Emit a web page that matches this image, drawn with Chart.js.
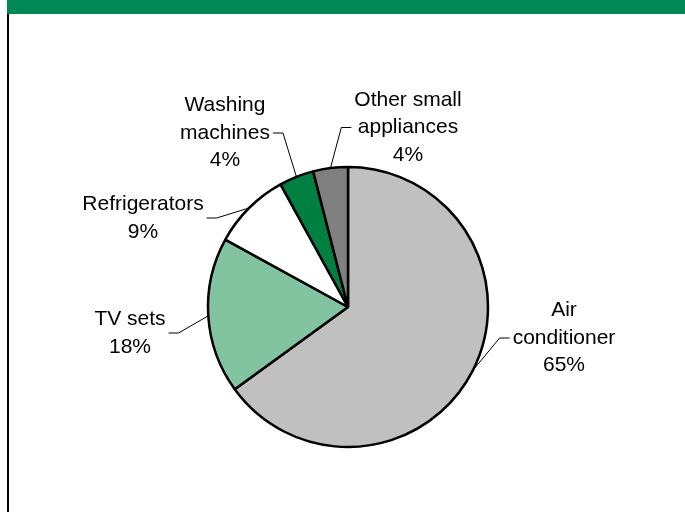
<!DOCTYPE html>
<html>
<head>
<meta charset="utf-8">
<script src="https://cdn.jsdelivr.net/npm/chart.js@4/dist/chart.umd.min.js"></script>
<style>
  html, body { margin: 0; padding: 0; background: #ffffff; }
  #wrap { position: relative; width: 685px; height: 512px; overflow: hidden; }
  #c { position: absolute; left: 0; top: 0; }
  #band { position: absolute; left: 7px; top: 0; width: 678px; height: 14px; background: #008857; }
  #edge { position: absolute; left: 7px; top: 14px; width: 2px; height: 498px; background: #000; }
</style>
</head>
<body>
<div id="wrap">
  <canvas id="c" width="685" height="512"></canvas>
  <div id="band"></div>
  <div id="edge"></div>
</div>
<script>
// ---- data ----
const categories = [
  ["Air", "conditioner"],
  ["TV sets"],
  ["Refrigerators"],
  ["Washing", "machines"],
  ["Other small", "appliances"]
];
const shares = [65, 18, 9, 4, 4];
const sliceColors = ["#C0C0C0", "#82C3A0", "#FFFFFF", "#008040", "#808080"];

// label block centre, relative to pie centre (px)
const labelOffsets = [
  [216, 31], [-218, 26], [-205, -89], [-123, -174], [60, -179.5]
];

const labelPlugin = {
  id: 'pieLabels',
  afterDraw(chart) {
    const ctx = chart.ctx;
    const meta = chart.getDatasetMeta(0);
    const data = chart.data.datasets[0].data;
    const total = data.reduce((a, b) => a + b, 0);
    ctx.save();
    ctx.font = '21px "Liberation Sans", Arial, sans-serif';
    ctx.fillStyle = '#000';
    ctx.strokeStyle = '#000';
    ctx.lineWidth = 1;
    const lh = 27.5;
    meta.data.forEach((arc, i) => {
      const p = arc.getProps(['x', 'y', 'startAngle', 'endAngle', 'outerRadius'], true);
      const mid = (p.startAngle + p.endAngle) / 2;
      const ex = p.x + Math.cos(mid) * p.outerRadius;
      const ey = p.y + Math.sin(mid) * p.outerRadius;
      const lines = categories[i].concat([Math.round(data[i] / total * 100) + '%']);
      const cx = p.x + labelOffsets[i][0];
      const cy = p.y + labelOffsets[i][1];
      let maxW = 0;
      lines.forEach(t => { maxW = Math.max(maxW, ctx.measureText(t).width); });
      const half = maxW / 2 + 3;
      let boxEdge, elbow;
      if (cx > ex) { boxEdge = cx - half; elbow = boxEdge - 10; }
      else { boxEdge = cx + half; elbow = boxEdge + 10; }
      ctx.beginPath();
      ctx.moveTo(ex, ey);
      ctx.lineTo(elbow, cy);
      ctx.lineTo(boxEdge, cy);
      ctx.stroke();
      ctx.textAlign = 'center';
      ctx.textBaseline = 'middle';
      const y0 = cy - (lines.length - 1) * lh / 2;
      lines.forEach((t, k) => ctx.fillText(t, cx, y0 + k * lh));
    });
    ctx.restore();
  }
};

new Chart(document.getElementById('c'), {
  type: 'pie',
  data: {
    labels: categories.map(l => l.join(' ')),
    datasets: [{
      data: shares,
      backgroundColor: sliceColors,
      borderColor: '#000000',
      borderWidth: 2.5
    }]
  },
  options: {
    responsive: false,
    animation: false,
    devicePixelRatio: 1,
    radius: 140,
    layout: { padding: { left: 11, right: 0, top: 120, bottom: 18 } },
    plugins: { legend: { display: false }, tooltip: { enabled: false }, title: { display: false } }
  },
  plugins: [labelPlugin]
});
</script>
</body>
</html>
